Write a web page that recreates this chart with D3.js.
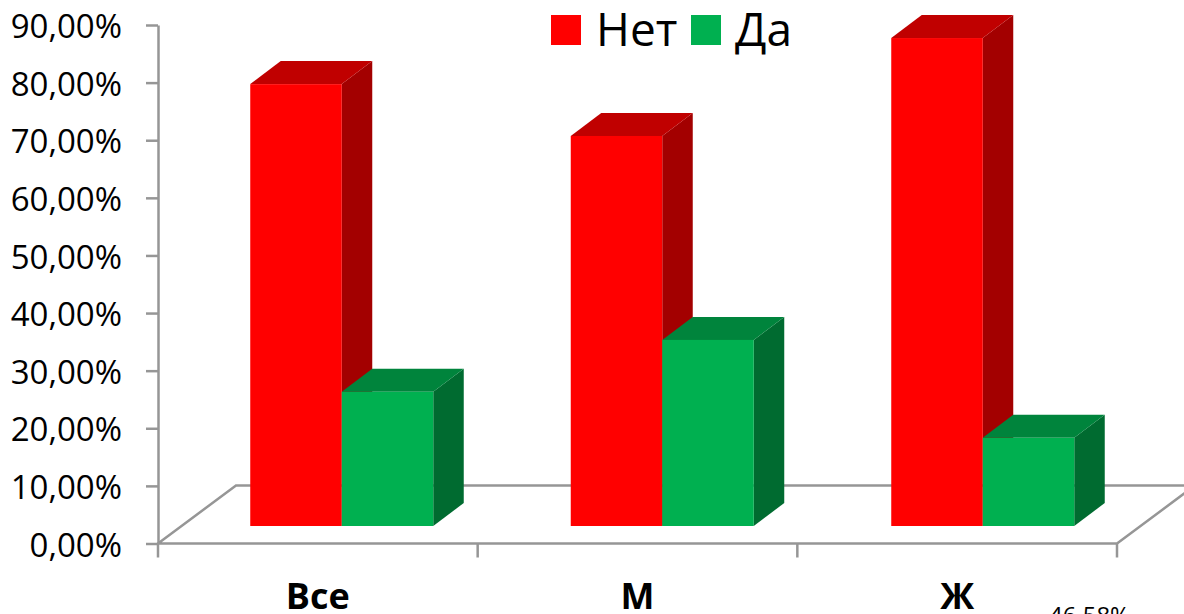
<!DOCTYPE html>
<html>
<head>
<meta charset="utf-8">
<script src="https://d3js.org/d3.v7.min.js"></script>
<style>
html, body { margin: 0; padding: 0; background: #fff; overflow: hidden; }
svg { display: block; }
text { font-family: "Open Sans", "Noto Sans", sans-serif; fill: #000; }
</style>
</head>
<body>
<svg width="1184" height="614"></svg>
<script>
var categories = ["Все", "М", "Ж"];
var seriesNames = ["Нет", "Да"];
var netValues = [76.7, 67.7, 84.7];
var daValues = [23.3, 32.3, 15.3];
var tickValues = [0, 10, 20, 30, 40, 50, 60, 70, 80, 90];
var tickLabels = ["0,00%", "10,00%", "20,00%", "30,00%", "40,00%", "50,00%", "60,00%", "70,00%", "80,00%", "90,00%"];
var strayLabel = "46,58%";

var colors = {
    "Нет": { front: "#ff0000", top: "#c00000", side: "#a30000" },
    "Да": { front: "#00b050", top: "#00843c", side: "#006b30" }
};
var axisColor = "#969696";

var svg = d3.select("svg");

var left = 158, right = 1117, y0 = 543.5, y90 = 25;
// floor depth and the part of it in front of the bars
var wallDx = 78, wallDy = 58;
var insetDx = 24, insetDy = 17.5;
var depthDx = 30.5, depthDy = 23;

var yScale = d3.scaleLinear().domain([0, 90]).range([y0, y90]);
var xScale = d3.scaleBand().domain(categories).range([left, right]);
var xBars = d3.scaleBand().domain(categories).range([left + insetDx, left + insetDx + 961.5]);
var barScale = d3.scaleBand().domain(seriesNames).range([0, 183]);

// floor
svg.append("path")
    .attr("fill", "none")
    .attr("stroke", axisColor)
    .attr("stroke-width", 2.5)
    .attr("d", "M" + left + "," + y0 + "L" + (left + wallDx) + "," + (y0 - wallDy) +
        "L" + (right + wallDx) + "," + (y0 - wallDy) + "L" + right + "," + y0 + "Z");

// y axis
var yAxis = d3.axisLeft(yScale)
    .tickValues(tickValues)
    .tickFormat(function(d, i) { return tickLabels[i]; })
    .tickSize(12)
    .tickSizeOuter(0)
    .tickPadding(24);

var yG = svg.append("g")
    .attr("transform", "translate(" + left + ",0)")
    .call(yAxis);
yG.selectAll("line").attr("stroke", axisColor).attr("stroke-width", 2.5);
yG.select(".domain").attr("stroke", axisColor).attr("stroke-width", 2.5);
yG.selectAll("text")
    .attr("font-family", null)
    .attr("font-size", "33px")
    .attr("y", 2)
    .attr("fill", "#000");

// x axis
var xAxis = d3.axisBottom(xScale).tickSize(0).tickPadding(40);
var xG = svg.append("g")
    .attr("transform", "translate(0," + y0 + ")")
    .call(xAxis);
xG.select(".domain").remove();
xG.selectAll("text")
    .attr("font-family", null)
    .attr("font-size", "36px")
    .attr("font-weight", "bold")
    .attr("fill", "#000");

// tick marks between the categories
svg.selectAll(".xtick")
    .data(categories.concat(["end"]))
    .enter().append("line")
    .attr("class", "xtick")
    .attr("x1", function(d, i) { return i < categories.length ? xScale(d) : right; })
    .attr("x2", function(d, i) { return i < categories.length ? xScale(d) : right; })
    .attr("y1", y0)
    .attr("y2", y0 + 14)
    .attr("stroke", axisColor)
    .attr("stroke-width", 2.5);

// 3d bars, left to right
var series = [
    { name: seriesNames[0], values: netValues },
    { name: seriesNames[1], values: daValues }
];

categories.forEach(function(cat, c) {
    series.forEach(function(s) {
        var x1 = xBars(cat) + (xBars.bandwidth() - 184) / 2 + barScale(s.name);
        var x2 = x1 + barScale.bandwidth();
        var yBase = yScale(0) - insetDy;
        var yTop = yScale(s.values[c]) - insetDy;
        var g = svg.append("g").attr("class", "bar");

        g.append("path")
            .attr("fill", colors[s.name].side)
            .attr("d", "M" + x2 + "," + yTop + "L" + (x2 + depthDx) + "," + (yTop - depthDy) +
                "L" + (x2 + depthDx) + "," + (yBase - depthDy) + "L" + x2 + "," + yBase + "Z");
        g.append("path")
            .attr("fill", colors[s.name].top)
            .attr("d", "M" + x1 + "," + yTop + "L" + (x1 + depthDx) + "," + (yTop - depthDy) +
                "L" + (x2 + depthDx) + "," + (yTop - depthDy) + "L" + x2 + "," + yTop + "Z");
        g.append("rect")
            .attr("x", x1)
            .attr("y", yTop)
            .attr("width", x2 - x1)
            .attr("height", yBase - yTop)
            .attr("fill", colors[s.name].front);
    });
});

// legend
var legendX = [551, 691];
seriesNames.forEach(function(name, i) {
    svg.append("rect")
        .attr("x", legendX[i])
        .attr("y", 15)
        .attr("width", 30)
        .attr("height", 30)
        .attr("fill", colors[name].front);
    svg.append("text")
        .attr("x", legendX[i] + (i == 0 ? 45 : 44))
        .attr("y", 46)
        .attr("font-size", "46px")
        .text(name);
});

svg.append("text")
    .attr("x", 1049)
    .attr("y", 624)
    .attr("font-size", "24px")
    .text(strayLabel);
</script>
</body>
</html>
